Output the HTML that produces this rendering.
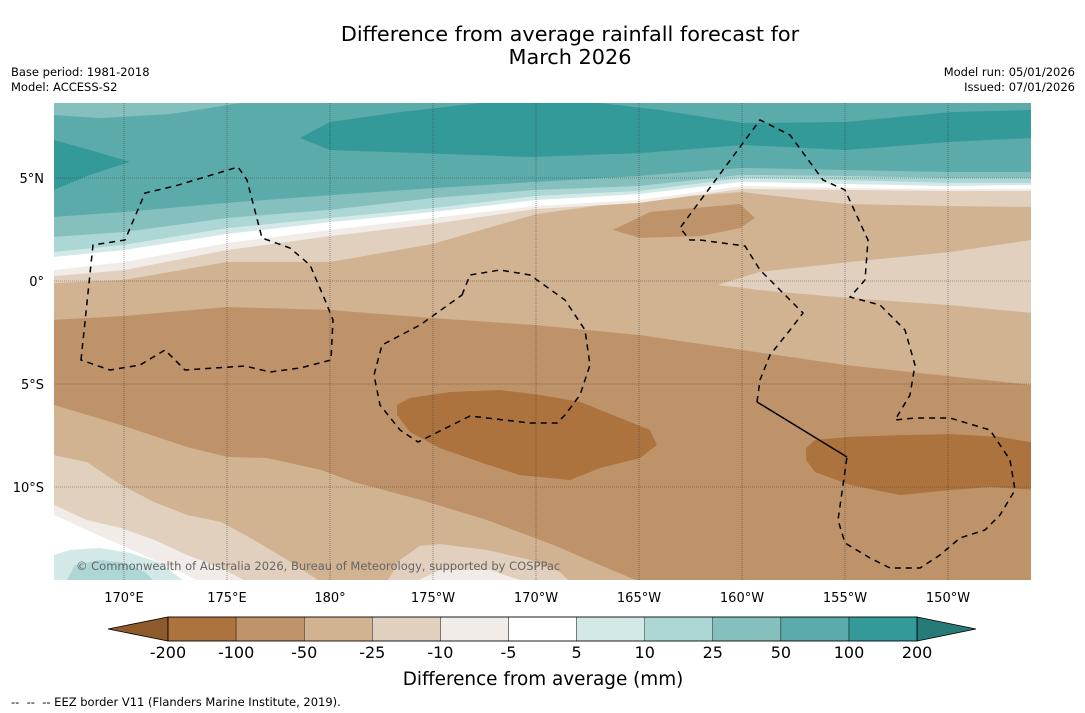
<!DOCTYPE html>
<html><head><meta charset="utf-8">
<style>
body{margin:0;background:#fff;width:1085px;height:713px;overflow:hidden;font-family:"DejaVu Sans","Liberation Sans",sans-serif;}
svg{position:absolute;left:0;top:0}
</style></head><body>
<svg id="chart" width="1085" height="713" viewBox="0 0 1085 713" font-family="'DejaVu Sans','Liberation Sans',sans-serif">
<text x="570" y="41" font-size="20.8" text-anchor="middle">Difference from average rainfall forecast for</text>
<text x="570" y="64" font-size="20.8" text-anchor="middle">March 2026</text>
<text x="11" y="76" font-size="11.5">Base period: 1981-2018</text>
<text x="11" y="91" font-size="11.5">Model: ACCESS-S2</text>
<text x="1075" y="76" font-size="11.5" text-anchor="end">Model run: 05/01/2026</text>
<text x="1075" y="91" font-size="11.5" text-anchor="end">Issued: 07/01/2026</text>
<defs><clipPath id="mapclip"><rect x="54" y="103" width="977" height="477"/></clipPath></defs>
<g id="map" clip-path="url(#mapclip)"></g>
<g id="axes"></g>
<g id="cbar"></g>
<text x="543" y="685" font-size="18.4" text-anchor="middle">Difference from average (mm)</text>
<text x="11" y="706" font-size="11.5" xml:space="preserve">--  --  -- EEZ border V11 (Flanders Marine Institute, 2019).</text>
</svg>
<script>
// ---- data ----
const gridLons = [166.6,170,175,180,185,190,195,200,205,210,214.1];
const lineM50 = [-1.89,-1.70,-1.26,-1.41,-1.80,-2.14,-2.62,-3.35,-4.08,-4.61,-5.05];
const lineM25 = [-0.10,0.05,0.92,0.92,1.80,3.25,3.93,4.32,3.74,3.64,3.59];
const lineM10 = [0.24,0.53,1.50,2.18,2.77,3.50,3.79,4.47,4.42,4.37,4.37];
const lineM5  = [0.53,0.92,1.84,2.48,3.06,3.64,3.93,4.61,4.51,4.47,4.47];
const lineP5  = [1.17,1.50,2.28,2.86,3.35,3.93,4.22,4.81,4.71,4.61,4.66];
const lineP10 = [1.41,1.75,2.57,3.06,3.54,4.13,4.37,5.00,4.90,4.76,4.76];
const lineP25 = [2.14,2.38,3.06,3.45,4.03,4.42,4.61,5.15,5.10,5.00,5.00];
const lineP50 = [3.11,3.35,3.79,4.17,4.51,4.81,5.10,5.49,5.39,5.29,5.29];
const blob200Lon = [178.54,180,183.4,187.28,214.03,214.03,210.1,205.05,200.05,195.05,189.7,180];
const blob200Lat = [6.94,7.72,8.2,8.64,8.64,6.94,6.75,6.36,6.6,6.21,6.02,6.36];
const strip100Lon = [193.1,196.0,200.05,205.05,210.1,214.03,214.03];
const strip100Lat = [8.64,8.3,7.67,7.72,8.2,8.3,8.64];
const wedge200Lon = [166.6,168.35,170.29,168.35,166.6];
const wedge200Lat = [6.84,6.36,5.78,5.15,4.42];
const strip50Lon = [166.6,166.6,168.83,172.23,174.17,175.63];
const strip50Lat = [8.64,8.06,7.91,8.1,8.4,8.64];
const islandM25Lon = [198.83,200.87,205.24,210.1,214.03,214.03,210.1,205.24,200.87];
const islandM25Lat = [-0.19,0.44,0.92,1.41,1.99,-1.55,-1.17,-0.83,-0.44];
const islandM100Lon = [193.74,195.53,199.9,200.63,199.9,197.96,195.05];
const islandM100Lat = [2.48,3.35,3.74,3.06,2.57,2.18,2.09];
const southM50Lon = [166.6,169.85,173.06,175,176.94,179.56,181.17,184.42,187.62,190.87,193.11,195.05,166.6];
const southM50Lat = [-6.02,-6.99,-8.06,-8.54,-8.59,-9.17,-9.76,-10.63,-11.6,-12.82,-13.79,-14.6,-14.6];
const southM25Lon = [166.6,168.2,169.85,171.46,173.06,174.71,176.31,177.91,179.56,166.6];
const southM25Lat = [-8.45,-8.79,-9.9,-10.73,-11.36,-11.7,-12.57,-13.54,-14.6,-14.6];
const bumpM25Lon = [182.77,183.4,184.37,185.34,187.62,189.7,191.17,191.65];
const bumpM25Lat = [-14.6,-13.54,-12.86,-12.77,-13.06,-13.54,-14.13,-14.6];
const southM10Lon = [166.6,168.2,169.85,171.46,173.06,174.71,175.97,166.6];
const southM10Lat = [-10.87,-11.6,-11.99,-12.57,-13.3,-13.93,-14.6,-14.6];
const bumpM10Lon = [184.13,185.34,187.77,189.47];
const bumpM10Lat = [-14.6,-14.03,-14.03,-14.6];
const southWhiteLon = [166.6,168.2,169.85,171.46,173.06,173.69,166.6];
const southWhiteLat = [-11.36,-12.09,-12.82,-13.54,-14.27,-14.6,-14.6];
const southP5Lon = [166.6,167.38,168.83,170.29,171.75,172.96];
const southP5Lat = [-13.3,-13.06,-12.96,-13.2,-13.69,-14.6];
const southP10Lon = [167.18,167.62,168.83,170.05,171.02,171.5];
const southP10Lat = [-14.6,-13.79,-13.54,-13.69,-14.13,-14.6];
const blobAlon = [183.25,183.88,185.83,188.25,190.19,192.14,194.08,195.53,195.87,195.05,193.11,191.65,189.22,187.28,185.34,183.88,183.25];
const blobAlat = [-6.02,-5.68,-5.39,-5.29,-5.53,-5.87,-6.65,-7.23,-7.96,-8.59,-9.08,-9.66,-9.42,-8.79,-8.11,-7.33,-6.5];
const blobBlon = [203.11,203.54,205.24,207.67,210.1,212.52,214.5,214.5,212.04,210.1,207.67,205.24,203.54,203.11];
const blobBlat = [-8.11,-7.72,-7.57,-7.48,-7.43,-7.57,-7.91,-10.15,-10.0,-10.15,-10.39,-9.9,-9.27,-8.69];
const lonTicks = [170,175,180,185,190,195,200,205,210];
const lonTickLabels = ["170°E","175°E","180°","175°W","170°W","165°W","160°W","155°W","150°W"];
const latTicks = [5,0,-5,-10];
const latTickLabels = ["5°N","0°","5°S","10°S"];
const cbarLabels = ["-200","-100","-50","-25","-10","-5","5","10","25","50","100","200"];
const cbarColors = ["#ac733e","#bf9369","#d1b291","#e2d0bf","#f2ece8","#ffffff","#d3e9e7","#acd7d5","#85c0bf","#5babab","#339999"];

// ---- axis functions ----
const X = lon => 124 + (lon-170)*20.6;
const Y = lat => 281 - lat*20.6;
const NS='http://www.w3.org/2000/svg';
const map=document.getElementById('map');
function mk(tag,attrs,parent){const e=document.createElementNS(NS,tag);for(const k in attrs)e.setAttribute(k,attrs[k]);parent.appendChild(e);return e;}
function poly(lons,lats,color,name){
  const pts=lons.map((l,i)=>X(l).toFixed(1)+','+Y(lats[i]).toFixed(1)).join(' ');
  const e=mk('polygon',{points:pts,fill:color},map);
  
  
}
function above(lats,color,name){
  const lons=[gridLons[0]].concat(gridLons,[gridLons[gridLons.length-1]]);
  const la=[9].concat(lats,[9]);
  poly(lons,la,color,name);
}
const C={m200:cbarColors[0],m100:cbarColors[1],m50:cbarColors[2],m25:cbarColors[3],m10:cbarColors[4],w:cbarColors[5],p5:cbarColors[6],p10:cbarColors[7],p25:cbarColors[8],p50:cbarColors[9],p100:cbarColors[10]};
const bg=mk('rect',{x:54,y:103,width:977,height:477,fill:C.m100},map);


above(lineM50,C.m50,'band-minus50');
above(lineM25,C.m25,'band-minus25');
above(lineM10,C.m10,'band-minus10');
above(lineM5,C.w,'band-neutral');
above(lineP5,C.p5,'band-plus5');
above(lineP10,C.p10,'band-plus10');
above(lineP25,C.p25,'band-plus25');
above(lineP50,C.p50,'band-plus50');
poly(strip50Lon,strip50Lat,C.p25,'band-plus25-northwest');
poly(blob200Lon,blob200Lat,C.p100,'band-plus100-north');
poly(strip100Lon,strip100Lat,C.p50,'band-plus50-north-strip');
poly(wedge200Lon,wedge200Lat,C.p100,'band-plus100-west');
poly(islandM25Lon,islandM25Lat,C.m25,'band-minus25-east');
poly(islandM100Lon,islandM100Lat,C.m100,'band-minus100-north');
poly(southM50Lon,southM50Lat,C.m50,'band-minus50-south');
poly(southM25Lon,southM25Lat,C.m25,'band-minus25-south');
poly(bumpM25Lon,bumpM25Lat,C.m25,'band-minus25-south-bump');
poly(southM10Lon,southM10Lat,C.m10,'band-minus10-south');
poly(bumpM10Lon,bumpM10Lat,C.m10,'band-minus10-south-bump');
poly(southWhiteLon,southWhiteLat,C.w,'band-neutral-south');
poly(southP5Lon.concat([166.6]),southP5Lat.concat([-14.6]),C.p5,'band-plus5-south');
poly(southP10Lon,southP10Lat,C.p10,'band-plus10-south');
poly(blobAlon,blobAlat,C.m200,'band-minus200-central');
poly(blobBlon,blobBlat,C.m200,'band-minus200-east');

// EEZ borders (decorative map linework)
const eez=[
 "M81,360 L93,245 L125,240 L145,193 L175,186 L238,167 L247,180 L262,238 L290,248 L310,265 L325,300 L333,320 L331,360 L300,368 L270,372 L245,366 L185,370 L165,350 L140,365 L110,370 Z",
 "M462,295 L470,275 L500,270 L530,275 L565,300 L585,330 L590,365 L580,395 L565,415 L557,423 L530,423 L470,416 L418,442 L400,430 L380,405 L374,375 L382,345 L420,325 Z",
 "M757,402 L760,380 L770,355 L790,330 L803,313 L780,290 L760,270 L745,246 L700,240 L690,240 L680,228 L760,120 L790,135 L823,180 L845,190 L868,240 L865,280 L850,297 L880,305 L905,330 L915,365 L910,395 L895,420 L915,418 L950,418 L990,430 L1010,460 L1015,490 L1000,515 L985,530 L960,538 L940,555 L920,568 L890,568 L870,558 L845,543 L838,520 L847,457"
];
eez.forEach((d,i)=>{const e=mk('path',{d:d,fill:'none',stroke:'#000','stroke-width':1.5,'stroke-dasharray':'6,5'},map);
 
 });
const sol=mk('path',{d:"M757,402 L847,457",fill:'none',stroke:'#000','stroke-width':1.5},map);



// gridlines and ticks
const ax=document.getElementById('axes');
lonTicks.forEach((l,i)=>{
  const g=mk('line',{x1:X(l),x2:X(l),y1:103,y2:580,stroke:'#333','stroke-width':0.6,'stroke-dasharray':'1,1','opacity':0.8},ax);
  
  
  const t=mk('text',{x:X(l),y:602,'font-size':13,'text-anchor':'middle'},ax);t.textContent=lonTickLabels[i];
  
  
});
latTicks.forEach((l,i)=>{
  const g=mk('line',{x1:54,x2:1031,y1:Y(l),y2:Y(l),stroke:'#333','stroke-width':0.6,'stroke-dasharray':'1,1','opacity':0.8},ax);
  
  
  const t=mk('text',{x:44,y:Y(l)+5,'font-size':13,'text-anchor':'end'},ax);t.textContent=latTickLabels[i];
  
  
});
const cp=mk('text',{x:76,y:570,'font-size':11.5,fill:'#666'},ax);cp.textContent='© Commonwealth of Australia 2026, Bureau of Meteorology, supported by COSPPac';



// colorbar
const cb=document.getElementById('cbar');
const bx0=168,bw=68.1,by=617,bh=24;
const la=mk('polygon',{points:`108,${by+bh/2} ${bx0},${by} ${bx0},${by+bh}`,fill:'#8d5a2c',stroke:'#000','stroke-width':0.8},cb);


cbarColors.forEach((c,i)=>{
  const r=mk('rect',{x:bx0+i*bw,y:by,width:bw,height:bh,fill:c,stroke:'#000','stroke-width':0.4},cb);
  
  
});
const xe=bx0+cbarColors.length*bw;
const ra=mk('polygon',{points:`${xe},${by} 976,${by+bh/2} ${xe},${by+bh}`,fill:'#267a78',stroke:'#000','stroke-width':0.8},cb);


mk('rect',{x:bx0,y:by,width:xe-bx0,height:bh,fill:'none',stroke:'#000','stroke-width':0.8},cb);
cbarLabels.forEach((s,i)=>{
  const t=mk('text',{x:bx0+i*bw,y:658,'font-size':16,'text-anchor':'middle'},cb);t.textContent=s;
  
  
});
</script>
</body></html>
